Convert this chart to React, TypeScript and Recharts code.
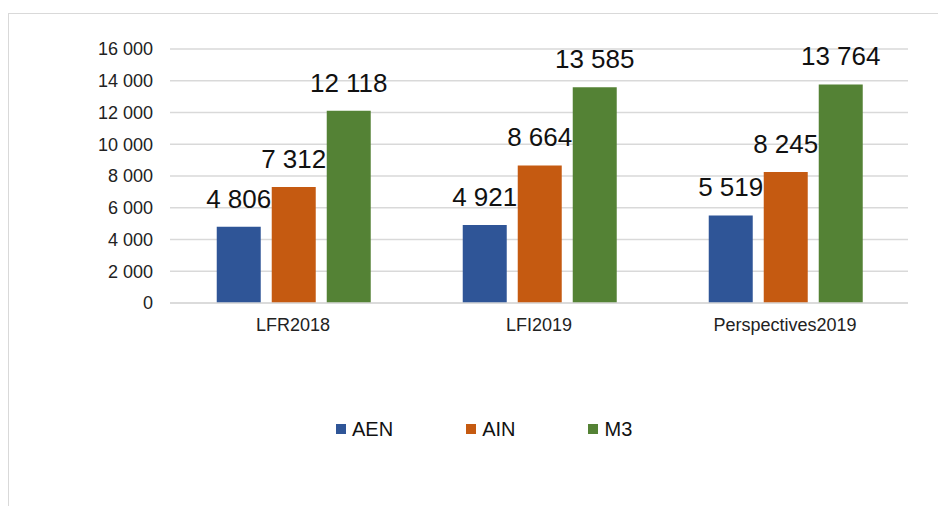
import React from 'react';
import { BarChart, Bar, XAxis, YAxis, CartesianGrid, Legend, LabelList } from 'recharts';

const categories = ['LFR2018', 'LFI2019', 'Perspectives2019'];
const aen = [4806, 4921, 5519];
const ain = [7312, 8664, 8245];
const m3 = [12118, 13585, 13764];
const yTicks = [0, 2000, 4000, 6000, 8000, 10000, 12000, 14000, 16000];

const series = [
  { key: 'AEN', color: '#2F5597' },
  { key: 'AIN', color: '#C55A11' },
  { key: 'M3', color: '#548235' },
];

const chartData = categories.map((name, i) => ({
  name,
  AEN: aen[i],
  AIN: ain[i],
  M3: m3[i],
}));

const fmt = (v: any) => String(v).replace(/\B(?=(\d{3})+(?!\d))/g, ' ');

const font = '"Liberation Sans", Arial, sans-serif';

// value above the bar, kept on one line
const TopLabel = (props: any) => {
  const { x, y, width, value } = props;
  return (
    <text x={x + width / 2} y={y - 19} textAnchor="middle" fontSize={26} fill="#111" fontFamily={font}>
      {fmt(value)}
    </text>
  );
};

const LegendRow = () => (
  <div style={{ display: 'flex', alignItems: 'center', gap: 73, fontFamily: font, fontSize: 20, lineHeight: '20px', color: '#111' }}>
    {series.map(s => (
      <div key={s.key} style={{ display: 'flex', alignItems: 'center' }}>
        <span style={{ display: 'inline-block', width: 10, height: 10, background: s.color, marginRight: 6 }} />
        <span>{s.key}</span>
      </div>
    ))}
  </div>
);

export default function App() {
  return (
    <div style={{ position: 'absolute', left: 0, top: 0, width: 938, height: 506, overflow: 'hidden', background: '#fff' }}>
      <div style={{ position: 'absolute', left: 8, top: 13, width: 1000, height: 600, border: '1px solid #d9d9d9' }} />
      <div style={{ position: 'absolute', left: 0, top: 0 }}>
        <BarChart
          width={938}
          height={506}
          data={chartData}
          margin={{ top: 49, right: 30, bottom: 173, left: 0 }}
          barCategoryGap="19%"
          barGap={11}
        >
          <CartesianGrid vertical={false} stroke="#d9d9d9" strokeWidth={1.3} />
          <XAxis
            dataKey="name"
            height={30}
            axisLine={{ stroke: '#d9d9d9', strokeWidth: 1.3 }}
            tickLine={false}
            tickSize={0}
            tickMargin={15}
            tick={{ fontSize: 18, fill: '#222', fontFamily: font }}
          />
          <YAxis
            width={170}
            domain={[0, 16000]}
            ticks={yTicks}
            axisLine={false}
            tickLine={false}
            tickSize={0}
            tickMargin={17}
            tickFormatter={fmt}
            tick={{ fontSize: 18, fill: '#222', fontFamily: font }}
          />
          <Legend
            layout="horizontal"
            verticalAlign="middle"
            align="center"
            content={() => <LegendRow />}
            wrapperStyle={{ left: 336, top: 419, width: 'auto', height: 20 }}
          />
          {series.map(s => (
            <Bar key={s.key} dataKey={s.key} fill={s.color} isAnimationActive={false}>
              <LabelList dataKey={s.key} content={TopLabel} />
            </Bar>
          ))}
        </BarChart>
      </div>
    </div>
  );
}
